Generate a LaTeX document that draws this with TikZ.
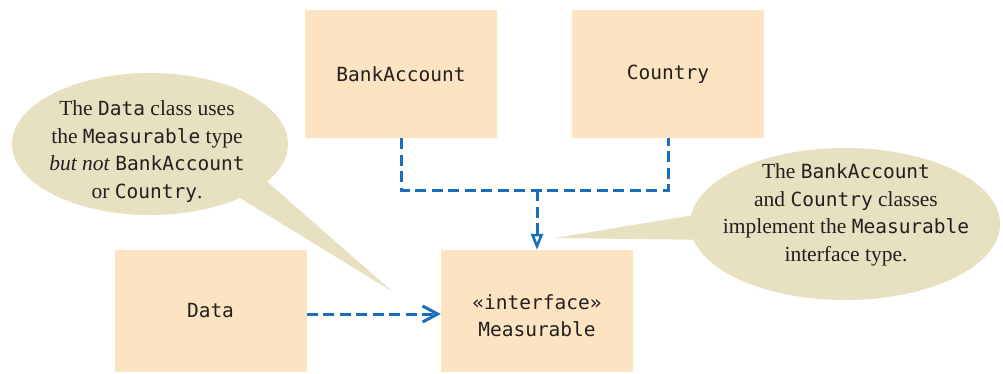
\documentclass[tikz,border=0pt]{standalone}
\usepackage{fontspec}
\setmainfont{Liberation Serif}
\setmonofont{DejaVu Sans Mono}
\usetikzlibrary{arrows.meta}
\definecolor{boxfill}{HTML}{FCE4C2}
\definecolor{notefill}{HTML}{E7E1C2}
\definecolor{linkblue}{HTML}{1A6FBA}
\definecolor{ink}{HTML}{231F20}
\newcommand\mcode[1]{{\fontsize{19.5}{27.5}\selectfont\ttfamily #1}}
\begin{document}
\begin{tikzpicture}[x=1pt,y=-1pt,
  classbox/.style={fill=boxfill, minimum width=192pt, minimum height=128pt, inner sep=0pt,
    font=\fontsize{19.5}{27}\selectfont\ttfamily, text=ink, align=center},
  lowbox/.style={classbox, minimum height=122pt},
  boxlabel/.style={inner sep=0pt, font=\fontsize{19.5}{27}\selectfont\ttfamily, text=ink, align=center},
  notetext/.style={inner sep=0pt, align=center, text=ink, font=\fontsize{21.5}{27.5}\selectfont},
  notebg/.style={fill=notefill},
  dep/.style={draw=linkblue, line width=3pt, dash pattern=on 11pt off 5.5pt}
]
\useasboundingbox (0,0) rectangle (1003,373);
% callout backgrounds
\fill[notebg] (150,144) ellipse [x radius=138pt, y radius=71pt];
\fill[notebg] (393,292) -- (235,195) -- (255,171) -- cycle;
\fill[notebg] (845,224) ellipse [x radius=155pt, y radius=76pt];
\fill[notebg] (555,238) -- (712,212) -- (712,240) -- cycle;
% class boxes
\node[classbox] (ba) at (401,74) {BankAccount};
\node[classbox] (co) at (668,74) {Country};
\node[lowbox] (da) at (210.5,311) {Data};
\node[lowbox] (me) at (537,311) {};
\node[boxlabel] (mel) at ([yshift=-5pt]me.center) {«interface»\\Measurable};
% notes
\node[notetext] (n1) at (147,151.5) {The \mcode{Data} class uses\\the \mcode{Measurable} type\\\textit{but not} \mcode{BankAccount}\\or \mcode{Country}.};
\node[notetext] (n2) at (846,215) {The \mcode{BankAccount}\\and \mcode{Country} classes\\implement the \mcode{Measurable}\\interface type.};
% connectors
\coordinate (j) at (537,190);
\draw[dep] (ba.south) -- (ba.south |- j) -| (co.south);
\draw[dep, -{Triangle[open, length=16pt, width=12pt, line width=2.6pt]}] (j) -- (me.north);
\draw[dep, -{Straight Barb[length=15pt, width=16pt, line width=3pt]}] ([yshift=-3pt]da.east) -- ([yshift=-3pt]me.west);
\end{tikzpicture}
\end{document}
